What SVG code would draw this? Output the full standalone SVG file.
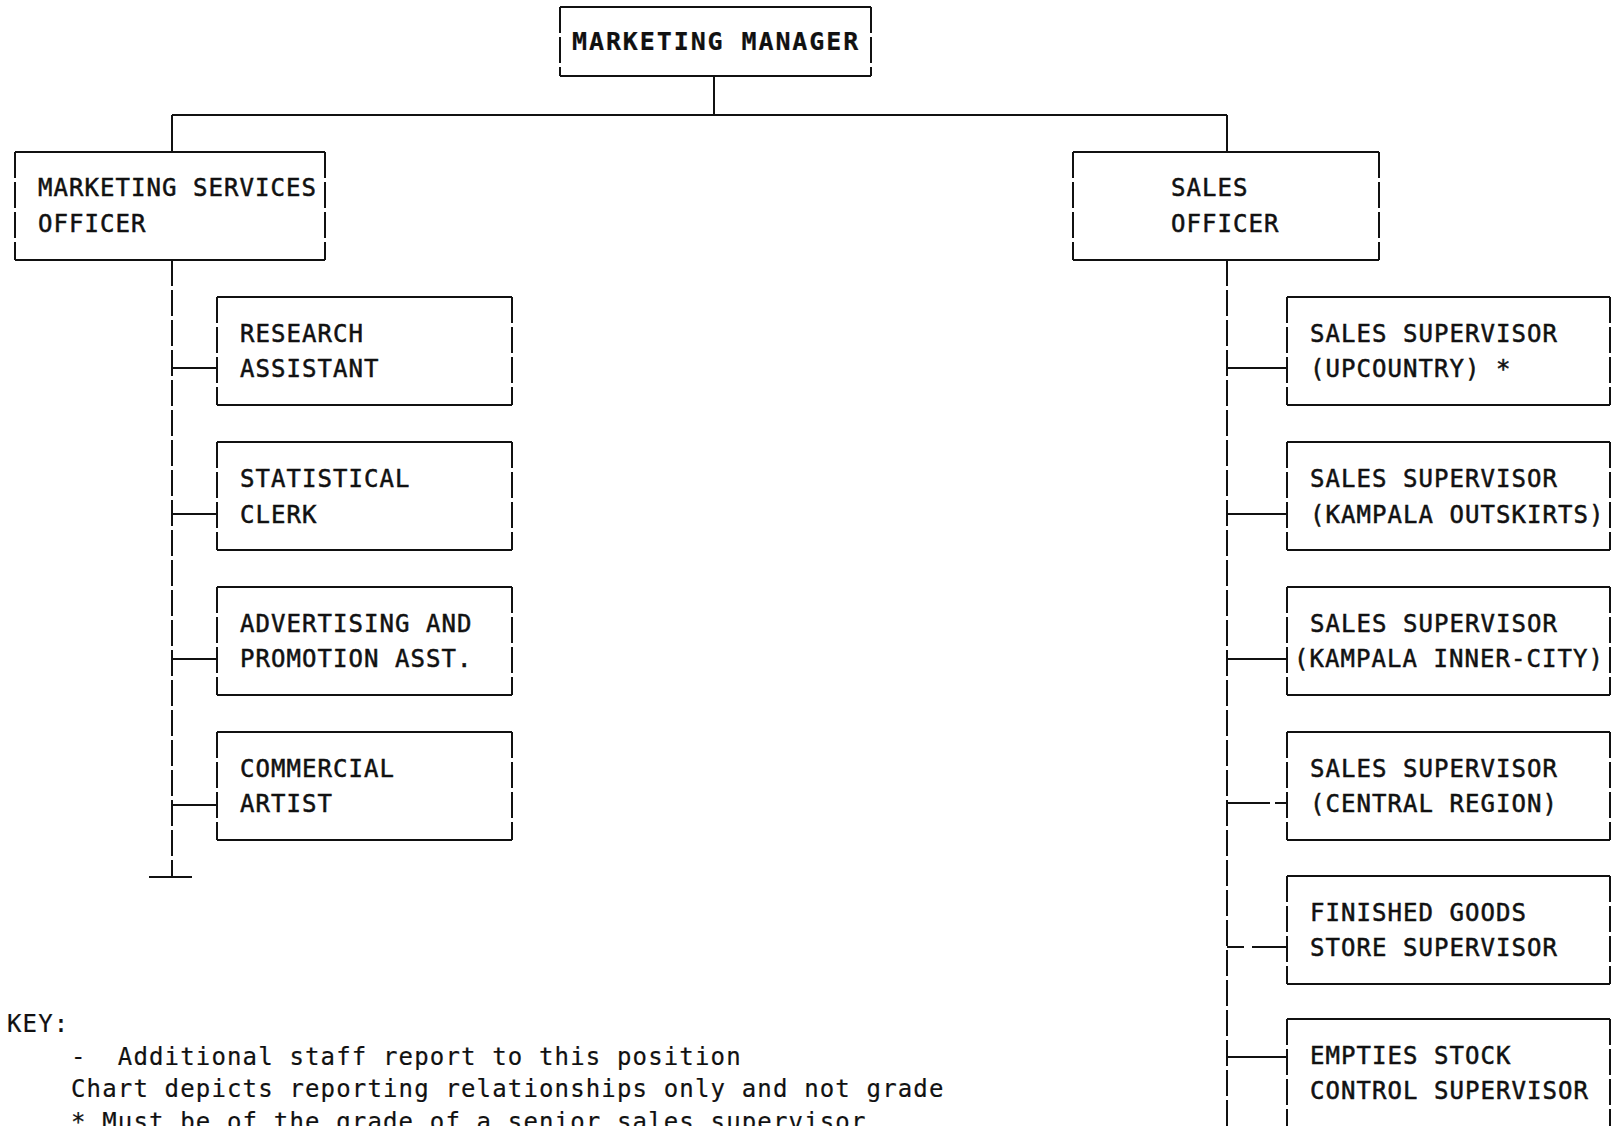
<svg xmlns="http://www.w3.org/2000/svg" xmlns:xlink="http://www.w3.org/1999/xlink" width="1612" height="1126" viewBox="0 0 1612 1126">
  <style>
    .ln { stroke: #111; stroke-width: 2; fill: none; stroke-linecap: butt; }
    .dv { stroke-dasharray: 26 4; }
    .lbl { font-family: "DejaVu Sans Mono", "Liberation Mono", monospace; font-size: 24px; letter-spacing: 1.05px; fill: #111; stroke: #111; stroke-width: 0.5px; white-space: pre; }
    .mgr { font-weight: bold; font-size: 25px; letter-spacing: 1.9px; stroke-width: 0.2px; }
    .key { font-size: 24px; letter-spacing: 1.15px; stroke-width: 0.2px; }
  </style>
  <defs>
    <!-- plotted box outline: solid top/bottom rules, broken side rules -->
    <g id="boxL">
      <path class="ln" d="M0,0H295M0,108H295"/>
      <path class="ln dv" d="M0,0V108M295,0V108"/>
    </g>
    <g id="boxR">
      <path class="ln" d="M0,0H323M0,108H323"/>
      <path class="ln dv" d="M0,0V108M323,0V108"/>
    </g>
  </defs>

  <rect width="1612" height="1126" fill="#fff"/>

  <!-- reporting lines -->
  <g id="connectors">
    <path class="ln" d="M714,76V115M172,115H1227M172,115V152M1227,115V152"/>
    <!-- marketing services spine -->
    <path class="ln dv" d="M172,260V877"/>
    <path class="ln" d="M149,877H192"/>
    <path class="ln" d="M172,368H217M172,514H217M172,659H217M172,805H217"/>
    <!-- sales spine -->
    <path class="ln dv" d="M1227,260V1126"/>
    <path class="ln" d="M1227,368H1287M1227,514H1287M1227,659H1287M1227,803H1270M1275,803H1287M1227,947H1244M1252,947H1287M1227,1057H1287"/>
  </g>

  <g id="marketing-manager">
    <path class="ln" d="M560,7H871M560,76H871"/>
    <path class="ln dv" d="M560,7V76M871,7V76"/>
    <text class="lbl mgr" x="572" y="50">MARKETING MANAGER</text>
  </g>

  <g id="marketing-services-officer">
    <path class="ln" d="M15,152H325M15,260H325"/>
    <path class="ln dv" d="M15,152V260M325,152V260"/>
    <text class="lbl" x="38" y="196">MARKETING SERVICES</text>
    <text class="lbl" x="38" y="232">OFFICER</text>
  </g>

  <g id="sales-officer">
    <path class="ln" d="M1073,152H1379M1073,260H1379"/>
    <path class="ln dv" d="M1073,152V260M1379,152V260"/>
    <text class="lbl" x="1171" y="196">SALES</text>
    <text class="lbl" x="1171" y="232">OFFICER</text>
  </g>

  <g id="research-assistant">
    <use xlink:href="#boxL" x="217" y="297"/>
    <text class="lbl" x="240" y="342">RESEARCH</text>
    <text class="lbl" x="240" y="377">ASSISTANT</text>
  </g>
  <g id="statistical-clerk">
    <use xlink:href="#boxL" x="217" y="442"/>
    <text class="lbl" x="240" y="487">STATISTICAL</text>
    <text class="lbl" x="240" y="523">CLERK</text>
  </g>
  <g id="advertising-promotion-asst">
    <use xlink:href="#boxL" x="217" y="587"/>
    <text class="lbl" x="240" y="632">ADVERTISING AND</text>
    <text class="lbl" x="240" y="667">PROMOTION ASST.</text>
  </g>
  <g id="commercial-artist">
    <use xlink:href="#boxL" x="217" y="732"/>
    <text class="lbl" x="240" y="777">COMMERCIAL</text>
    <text class="lbl" x="240" y="812">ARTIST</text>
  </g>

  <g id="ss-upcountry">
    <use xlink:href="#boxR" x="1287" y="297"/>
    <text class="lbl" x="1310" y="342">SALES SUPERVISOR</text>
    <text class="lbl" x="1310" y="377">(UPCOUNTRY) *</text>
  </g>
  <g id="ss-kampala-outskirts">
    <use xlink:href="#boxR" x="1287" y="442"/>
    <text class="lbl" x="1310" y="487">SALES SUPERVISOR</text>
    <text class="lbl" x="1310" y="523">(KAMPALA OUTSKIRTS)</text>
  </g>
  <g id="ss-kampala-inner-city">
    <use xlink:href="#boxR" x="1287" y="587"/>
    <text class="lbl" x="1310" y="632">SALES SUPERVISOR</text>
    <text class="lbl" x="1294" y="667">(KAMPALA INNER-CITY)</text>
  </g>
  <g id="ss-central-region">
    <use xlink:href="#boxR" x="1287" y="732"/>
    <text class="lbl" x="1310" y="777">SALES SUPERVISOR</text>
    <text class="lbl" x="1310" y="812">(CENTRAL REGION)</text>
  </g>
  <g id="finished-goods-store">
    <use xlink:href="#boxR" x="1287" y="876"/>
    <text class="lbl" x="1310" y="921">FINISHED GOODS</text>
    <text class="lbl" x="1310" y="956">STORE SUPERVISOR</text>
  </g>
  <g id="empties-stock-control">
    <use xlink:href="#boxR" x="1287" y="1019"/>
    <text class="lbl" x="1310" y="1064">EMPTIES STOCK</text>
    <text class="lbl" x="1310" y="1099">CONTROL SUPERVISOR</text>
  </g>

  <g id="key">
    <text class="lbl key" x="7" y="1032">KEY:</text>
    <text class="lbl key" x="71" y="1065">-  Additional staff report to this position</text>
    <text class="lbl key" x="71" y="1097">Chart depicts reporting relationships only and not grade</text>
    <text class="lbl key" x="71" y="1130">* Must be of the grade of a senior sales supervisor</text>
  </g>
</svg>
